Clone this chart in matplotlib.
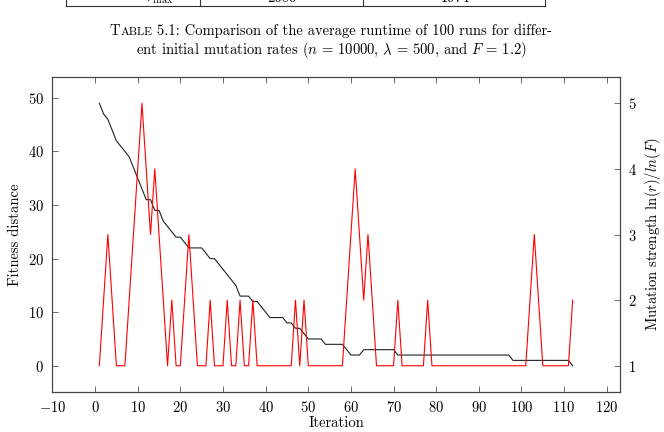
import matplotlib
matplotlib.use("Agg")
from matplotlib import pyplot as plt
from matplotlib.lines import Line2D

plt.rcParams['font.family'] = 'serif'
plt.rcParams['font.serif'] = ['cmr10']
plt.rcParams['mathtext.fontset'] = 'cm'
plt.rcParams['axes.formatter.use_mathtext'] = True

# data
iteration = list(range(1, 113))
fitness = [49, 47, 46, 44, 42, 41, 40, 39, 37, 35,
           33, 31, 31, 29, 29, 27, 26, 25, 24, 24,
           23, 22, 22, 22, 22, 21, 20, 20, 19, 18,
           17, 16, 15, 13, 13, 13, 12, 12, 11, 10,
           9, 9, 9, 9, 8, 8, 7, 7, 6, 5,
           5, 5, 5, 4, 4, 4, 4, 4, 3, 2,
           2, 2, 3, 3, 3, 3, 3, 3, 3, 3,
           2, 2, 2, 2, 2, 2, 2, 2, 2, 2,
           2, 2, 2, 2, 2, 2, 2, 2, 2, 2,
           2, 2, 2, 2, 2, 2, 2, 1, 1, 1,
           1, 1, 1, 1, 1, 1, 1, 1, 1, 1,
           1, 0]
strength = [1, 2, 3, 2, 1, 1, 1, 2, 3, 4,
            5, 4, 3, 4, 3, 2, 1, 2, 1, 1,
            2, 3, 2, 1, 1, 1, 2, 1, 1, 1,
            2, 1, 1, 2, 1, 1, 2, 1, 1, 1,
            1, 1, 1, 1, 1, 1, 2, 1, 2, 1,
            1, 1, 1, 1, 1, 1, 1, 1, 2, 3,
            4, 3, 2, 3, 2, 1, 1, 1, 1, 1,
            2, 1, 1, 1, 1, 1, 1, 2, 1, 1,
            1, 1, 1, 1, 1, 1, 1, 1, 1, 1,
            1, 1, 1, 1, 1, 1, 1, 1, 1, 1,
            1, 2, 3, 2, 1, 1, 1, 1, 1, 1,
            1, 2]
xticks = [-10, 0, 10, 20, 30, 40, 50, 60, 70, 80, 90, 100, 110, 120]
yticks_left = [0, 10, 20, 30, 40, 50]
yticks_right = [1, 2, 3, 4, 5]
table_cells = ["$r_{\\max}$", "2080", "1974"]

W, H = 664, 432
fig = plt.figure(figsize=(6.64, 4.32), dpi=100, facecolor="w")

# remains of the table above the caption (cut off by the top edge, as in the page crop)
ytab = 1 - 6 / H
fig.add_artist(Line2D([66 / W, 545 / W], [ytab, ytab], transform=fig.transFigure, color="#333333", lw=0.8))
for xp in [66, 200, 363, 545]:
    fig.add_artist(Line2D([xp / W, xp / W], [ytab, 1.0], transform=fig.transFigure, color="#333333", lw=0.8))
for xp, s in zip([160, 282, 455], table_cells):
    fig.text(xp / W, 1 - 1.5 / H, s, fontsize=10.5, ha="center", va="baseline")

# caption with small caps "Table"
ycap1 = 1 - 35 / H
fig.canvas.draw()
r = fig.canvas.get_renderer()
parts = [("T", 10.5), ("ABLE", 8.4), (" 5.1: Comparison of the average runtime of 100 runs for differ-", 10.5)]
texts = []
for s, fs in parts:
    texts.append(fig.text(0, ycap1, s, fontsize=fs, ha="left", va="baseline"))
widths = [t.get_window_extent(r).width for t in texts]
x0 = 331 - sum(widths) / 2
for t, w in zip(texts, widths):
    t.set_x(x0 / W)
    x0 += w
fig.text(331 / W, 1 - 54 / H, "ent initial mutation rates ($n$ = 10000, $\\lambda$ = 500, and $F$ = 1.2)",
         fontsize=10.5, ha="center", va="baseline")

ax = fig.add_axes([52 / W, 1 - 392 / H, 568 / W, 315 / H])
ax.plot(iteration, fitness, color="#222222", lw=0.8)
ax.set_xlim(-10.1, 123.1)
ax.set_ylim(-4.9, 53.9)
ax.set_xticks(xticks)
ax.set_yticks(yticks_left)
ax.tick_params(axis="x", direction="in", top=True, bottom=True, length=4, width=0.6, color="#555555", labelsize=10.5, pad=6)
ax.tick_params(axis="y", direction="in", left=True, right=False, length=4, width=0.6, color="#555555", labelsize=10.5, pad=6)
ax.set_xlabel("Iteration", fontsize=10.5, labelpad=1)
ax.set_ylabel("Fitness distance", fontsize=10.5)
for sp in ax.spines.values():
    sp.set_linewidth(0.8)
    sp.set_color("#444444")

ax2 = ax.twinx()
ax2.plot(iteration, strength, color="red", lw=0.8)
ax2.set_ylim(0.6, 5.4)
ax2.set_yticks(yticks_right)
ax2.tick_params(axis="y", direction="in", right=True, left=False, length=4, width=0.6, color="#555555", labelsize=10.5, pad=6)
ax2.set_ylabel("Mutation strength $\\ln(r)/ln(F)$", fontsize=10.5)
for sp in ax2.spines.values():
    sp.set_linewidth(0.8)
    sp.set_color("#444444")

fig.savefig("out.png", dpi=100)
